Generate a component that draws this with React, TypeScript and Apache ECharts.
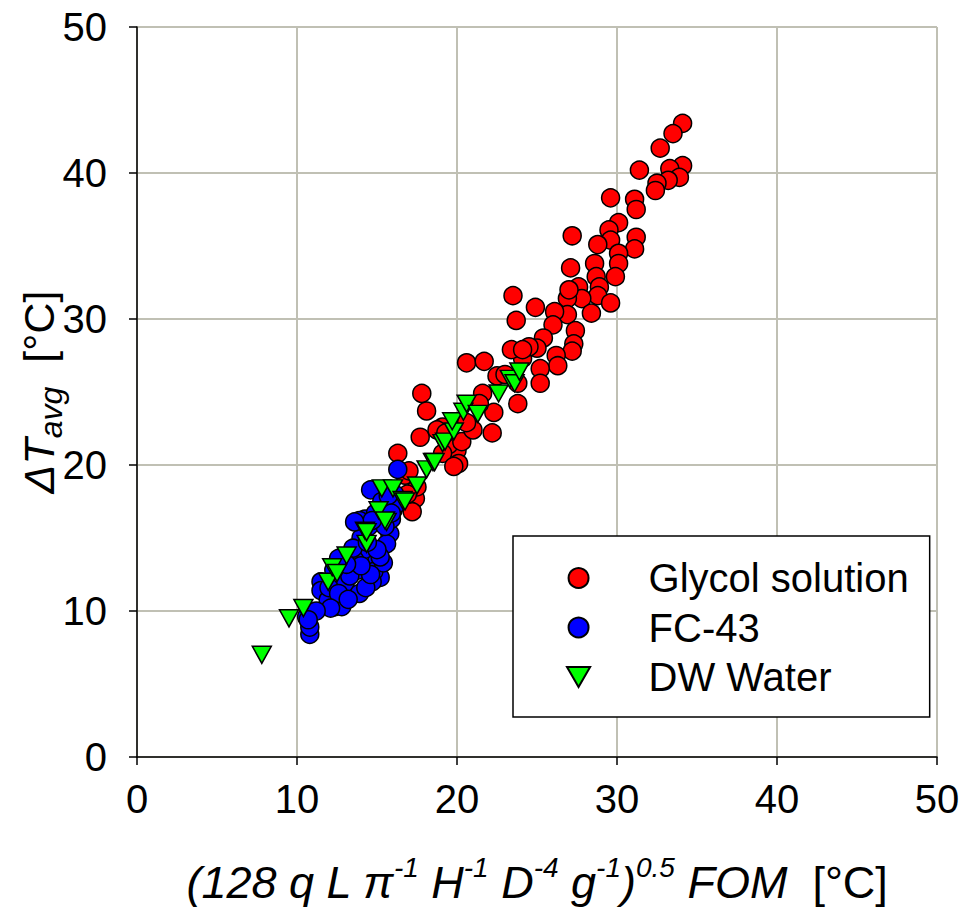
import React, { useEffect, useRef } from "react";
import * as echarts from "echarts";

const xTicks = [0, 10, 20, 30, 40, 50];
const yTicks = [0, 10, 20, 30, 40, 50];
const seriesNames = ["Glycol solution", "FC-43", "DW Water"];

const glycol: number[][] = [
  [34.1, 43.4], [33.5, 42.7], [32.7, 41.7], [31.4, 40.2], [34.1, 40.5], [33.3, 40.3], [33.9, 39.7],
  [33.2, 39.5], [32.5, 39.3], [32.4, 38.8], [29.6, 38.3], [31.1, 38.2], [31.2, 37.5], [27.2, 35.7],
  [30.1, 36.6], [29.5, 36.1], [29.6, 35.4], [28.8, 35.1], [31.2, 35.6], [31.1, 34.8], [30.1, 34.5],
  [30.1, 33.8], [28.6, 33.8], [27.1, 33.5], [29.9, 32.9], [28.7, 32.9], [27.6, 32.2], [28.9, 32.2],
  [28.8, 31.6], [27.8, 31.4], [29.6, 31.1], [26.9, 31.4], [27.0, 32.0], [26.9, 30.3], [28.4, 30.4],
  [27.4, 29.2], [27.3, 28.3], [27.2, 27.8], [23.5, 31.6], [23.7, 29.9], [24.9, 30.8], [26.1, 30.5],
  [26.0, 29.6], [25.4, 28.7], [25.0, 28.0], [26.2, 27.5], [26.3, 26.8], [24.1, 27.3], [23.4, 27.9],
  [24.5, 28.1], [24.1, 27.9], [20.6, 27.0], [21.7, 27.1], [22.5, 26.1], [23.0, 26.2], [25.2, 26.6],
  [25.2, 25.6], [23.8, 25.6], [23.8, 24.2], [21.6, 24.9], [22.3, 23.6], [22.2, 22.2], [21.4, 24.2],
  [19.1, 22.6], [20.0, 21.0], [20.1, 20.1], [19.4, 21.5], [16.3, 20.8], [17.7, 21.9], [17.8, 24.9],
  [18.1, 23.7], [19.5, 21.4], [17.4, 17.7], [17.2, 16.8], [17.5, 18.5], [19.1, 20.8], [19.8, 19.9],
  [16.75, 19.3], [18.75, 22.4], [19.3, 22.2], [20.3, 21.6], [21.0, 22.4], [20.6, 22.9], [16.9, 18.0],
  [17.0, 19.6]
];

const fc43: number[][] = [
  [16.3, 19.7], [14.6, 18.3], [16.0, 16.9], [14.25, 16.3], [14.0, 15.0], [15.8, 15.3], [15.6, 14.6],
  [12.9, 13.7], [15.0, 13.5], [15.2, 12.3], [14.8, 12.7], [13.8, 12.8], [13.0, 11.9], [11.5, 12.0],
  [11.5, 11.4], [13.9, 11.2], [11.95, 10.75], [12.4, 10.3], [12.8, 10.3], [10.6, 9.6], [10.8, 8.4],
  [10.8, 8.9], [15.4, 13.3], [15.2, 13.7], [14.7, 12.0], [16.1, 18.0], [15.3, 17.5], [14.9, 16.7],
  [14.5, 15.8], [13.9, 16.2], [14.2, 14.2], [13.6, 13.5], [13.3, 12.4], [12.3, 12.8], [12.0, 11.6],
  [12.6, 11.2], [14.3, 11.6], [14.6, 12.5], [13.5, 14.3], [15.9, 16.3], [15.5, 15.8], [16.2, 17.3],
  [13.2, 10.8], [12.1, 10.2], [11.2, 10.0], [14.0, 13.1], [15.0, 14.2], [13.1, 13.2], [15.7, 17.9],
  [14.4, 14.7], [14.7, 16.2], [12.6, 13.6], [13.6, 16.1], [15.9, 16.7], [10.7, 9.4]
];

const dwWater: number[][] = [
  [7.8, 7.0], [9.5, 9.5], [10.4, 10.2], [11.95, 12.0], [12.2, 13.0], [12.5, 12.6], [13.1, 13.8],
  [14.35, 14.6], [14.25, 15.5], [14.35, 15.4], [15.1, 16.9], [15.6, 16.1], [15.5, 16.2], [15.3, 18.4],
  [16.0, 18.4], [16.6, 17.6], [16.75, 17.5], [17.5, 18.6], [18.1, 19.7], [18.5, 20.2], [18.6, 20.2],
  [19.1, 21.5], [19.25, 21.6], [19.8, 22.3], [19.7, 23.0], [20.4, 23.65], [20.6, 24.2], [21.3, 23.5],
  [22.6, 24.9], [23.3, 25.9], [23.6, 25.6], [23.9, 26.4]
];

const FONT = "'Liberation Sans', Arial, sans-serif";
const TRI = "path://M0,0L20,0L10,17.3Z";

export default function App() {
  const ref = useRef<HTMLDivElement>(null);
  useEffect(() => {
    document.body.style.margin = "0";
    if (!ref.current) return;
    const chart = echarts.init(ref.current, undefined, { renderer: "svg" });
    const gridLine = { show: true, lineStyle: { color: "#c0c0b4", width: 2 } };
    const itemStyleBase = { borderColor: "#000", borderWidth: 1.5, opacity: 1 };
    chart.setOption({
      animation: false,
      backgroundColor: "#fff",
      textStyle: { fontFamily: FONT },
      grid: { left: 137, right: 28, top: 27, bottom: 158, containLabel: false, outerBoundsMode: "none" },
      legend: {
        orient: "vertical",
        left: 513,
        top: 536,
        itemWidth: 130,
        itemHeight: 20,
        itemGap: 9.5,
        padding: [22, 21, 20, 53],
        backgroundColor: "#fff",
        borderColor: "#000",
        borderWidth: 1.5,
        borderRadius: 0,
        textStyle: { fontSize: 40, color: "#000", fontFamily: FONT, lineHeight: 40 },
        data: seriesNames,
      },
      xAxis: {
        type: "value",
        min: xTicks[0],
        max: xTicks[xTicks.length - 1],
        interval: 10,
        axisLine: { show: true, onZero: false, lineStyle: { color: "#000", width: 1.5 } },
        axisTick: { show: true, inside: false, length: 8, lineStyle: { color: "#000", width: 1.5 } },
        axisLabel: { fontSize: 40, color: "#000", margin: 22, fontFamily: FONT },
        splitLine: gridLine,
        name:
          "{i|(128 q L π}{s|-1}{i| H}{s|-1}{i| D}{s|-4}{i| g}{s|-1}{i|)}{s|0.5}{i| FOM  }{n|[°C]}",
        nameLocation: "middle",
        nameGap: 96,
        nameMoveOverlap: false,
        nameTextStyle: {
          rich: {
            i: { fontSize: 45, fontStyle: "italic", color: "#000", fontFamily: FONT, lineHeight: 52, verticalAlign: "bottom" },
            s: { fontSize: 28, fontStyle: "italic", color: "#000", fontFamily: FONT, lineHeight: 28, verticalAlign: "top" },
            n: { fontSize: 45, color: "#000", fontFamily: FONT, lineHeight: 52, verticalAlign: "bottom" },
          },
        },
      },
      yAxis: {
        type: "value",
        min: yTicks[0],
        max: yTicks[yTicks.length - 1],
        interval: 10,
        axisLine: { show: true, onZero: false, lineStyle: { color: "#000", width: 1.5 } },
        axisTick: { show: true, inside: false, length: 8, lineStyle: { color: "#000", width: 1.5 } },
        axisLabel: { fontSize: 40, color: "#000", margin: 30, fontFamily: FONT },
        splitLine: gridLine,
        name: "{i|ΔT}{sub|avg}{n|  [°C]}",
        nameLocation: "middle",
        nameGap: 70,
        nameMoveOverlap: false,
        nameTextStyle: {
          rich: {
            i: { fontSize: 43, fontStyle: "italic", color: "#000", fontFamily: FONT, lineHeight: 50, verticalAlign: "top" },
            sub: { fontSize: 32, fontStyle: "italic", color: "#000", fontFamily: FONT, lineHeight: 32, verticalAlign: "bottom" },
            n: { fontSize: 43, color: "#000", fontFamily: FONT, lineHeight: 50, verticalAlign: "top" },
          },
        },
      },
      series: [
        {
          name: seriesNames[0],
          type: "scatter",
          data: glycol,
          symbol: "circle",
          symbolSize: 18,
          itemStyle: { ...itemStyleBase, color: "#ff0000" },
          z: 2,
        },
        {
          name: seriesNames[1],
          type: "scatter",
          data: fc43,
          symbol: "circle",
          symbolSize: 18,
          itemStyle: { ...itemStyleBase, color: "#0000ff" },
          z: 3,
        },
        {
          name: seriesNames[2],
          type: "scatter",
          data: dwWater,
          symbol: TRI,
          symbolSize: [19, 17],
          itemStyle: { ...itemStyleBase, color: "#00ff00" },
          z: 4,
        },
      ],
    });
    return () => chart.dispose();
  }, []);
  return <div ref={ref} style={{ width: 965, height: 915 }} />;
}
